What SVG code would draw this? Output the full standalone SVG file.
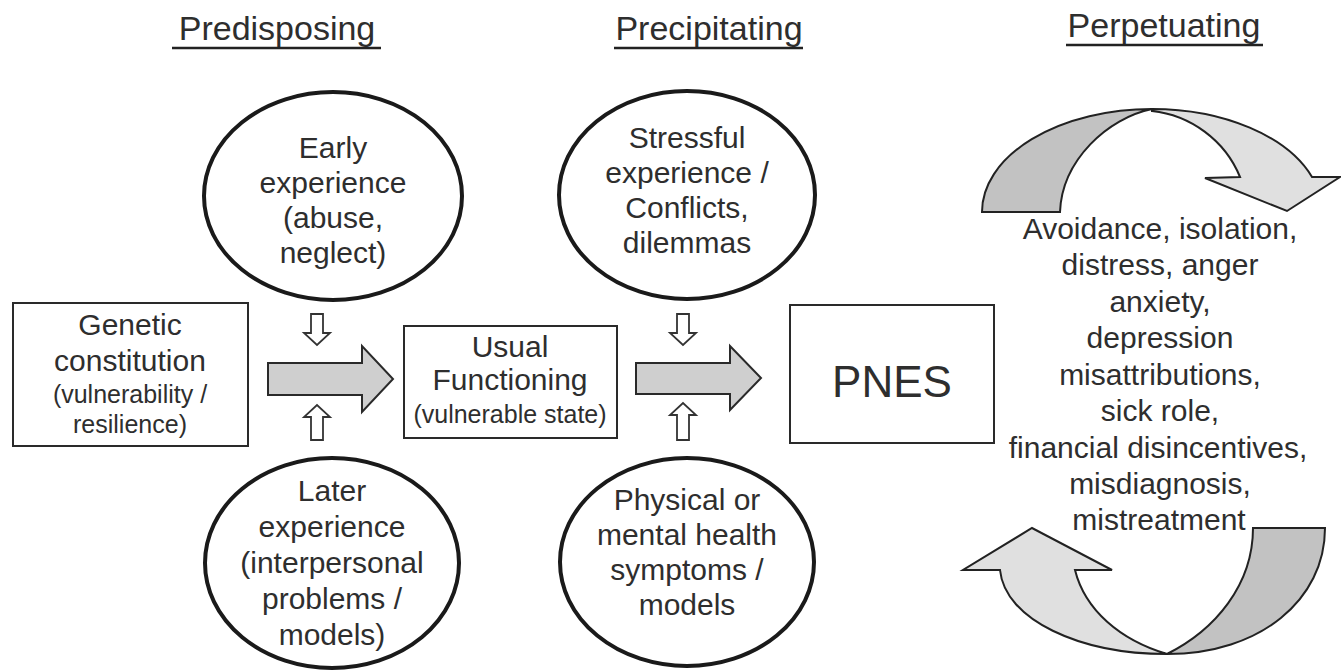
<svg xmlns="http://www.w3.org/2000/svg" width="1341" height="671" viewBox="0 0 1341 671">
<style>
text{font-family:"Liberation Sans",Arial,sans-serif;fill:#2e2e2e;text-anchor:middle}
.h{font-size:34px}
.t{font-size:30px}
.s{font-size:25px}
.ell{fill:#fff;stroke:#1a1a1a;stroke-width:4}
.box{fill:#fff;stroke:#2a2a2a;stroke-width:2}
.blk{fill:#cfcfcf;stroke:#2a2a2a;stroke-width:2;stroke-linejoin:miter}
.sm{fill:#fff;stroke:#333;stroke-width:1.8}
.dk{fill:#c2c2c2;stroke:#222;stroke-width:2}
.lt{fill:#e0e0e0;stroke:#222;stroke-width:2}
.ul{stroke:#222;stroke-width:2.5}
</style>
<g id="headings">
<text class="h" x="277" y="40">Predisposing</text>
<line class="ul" x1="172" y1="48" x2="381" y2="48"/>
<text class="h" x="709" y="40">Precipitating</text>
<line class="ul" x1="614" y1="48" x2="803" y2="48"/>
<text class="h" x="1164" y="37">Perpetuating</text>
<line class="ul" x1="1066" y1="45" x2="1263" y2="45"/>
</g>
<g id="early">
<ellipse class="ell" cx="333" cy="196" rx="129" ry="104"/>
<text class="t" x="333" y="158">Early</text>
<text class="t" x="333" y="193">experience</text>
<text class="t" x="333" y="228">(abuse,</text>
<text class="t" x="333" y="263">neglect)</text>
</g>
<g id="stressful">
<ellipse class="ell" cx="687" cy="195" rx="128" ry="104"/>
<text class="t" x="687" y="148">Stressful</text>
<text class="t" x="687" y="183">experience /</text>
<text class="t" x="687" y="218">Conflicts,</text>
<text class="t" x="687" y="253">dilemmas</text>
</g>
<g id="genetic">
<rect class="box" x="13" y="303" width="235" height="143"/>
<text class="t" x="130" y="335">Genetic</text>
<text class="t" x="130" y="371">constitution</text>
<text class="s" x="130" y="403">(vulnerability /</text>
<text class="s" x="130" y="433">resilience)</text>
</g>
<g id="usual">
<rect class="box" x="404" y="326" width="213" height="112"/>
<text class="t" x="510" y="357">Usual</text>
<text class="t" x="510" y="390">Functioning</text>
<text class="s" x="510" y="423">(vulnerable state)</text>
</g>
<g id="pnes">
<rect class="box" x="790" y="305" width="204" height="138"/>
<text x="892" y="397" style="font-size:44px">PNES</text>
</g>
<g id="later">
<ellipse class="ell" cx="332" cy="563" rx="127" ry="105"/>
<text class="t" x="332" y="501">Later</text>
<text class="t" x="332" y="537">experience</text>
<text class="t" x="332" y="573">(interpersonal</text>
<text class="t" x="332" y="609">problems /</text>
<text class="t" x="332" y="645">models)</text>
</g>
<g id="physical">
<ellipse class="ell" cx="687" cy="562" rx="127" ry="104"/>
<text class="t" x="687" y="510">Physical or</text>
<text class="t" x="687" y="545">mental health</text>
<text class="t" x="687" y="580">symptoms /</text>
<text class="t" x="687" y="615">models</text>
</g>
<g id="perpetuating-text">
<text class="t" x="1160" y="239">Avoidance, isolation,</text>
<text class="t" x="1160" y="275">distress, anger</text>
<text class="t" x="1160" y="312">anxiety,</text>
<text class="t" x="1160" y="348">depression</text>
<text class="t" x="1160" y="385">misattributions,</text>
<text class="t" x="1160" y="421">sick role,</text>
<text class="t" x="1158" y="458">financial disincentives,</text>
<text class="t" x="1160" y="494">misdiagnosis,</text>
<text class="t" x="1159" y="530">mistreatment</text>
</g>
<g id="connectors">
<path class="blk" d="M268,363 L362,363 L362,346 L393,379 L362,412 L362,395 L268,395 Z"/>
<path class="blk" d="M636,363 L730,363 L730,346 L761,378 L730,410 L730,394 L636,394 Z"/>
<path class="sm" d="M311,314 L323,314 L323,333 L330,333 L317,345 L304,333 L311,333 Z"/>
<path class="sm" d="M311,440 L323,440 L323,417 L330,417 L317,405 L304,417 L311,417 Z"/>
<path class="sm" d="M677,314 L689,314 L689,333 L696,333 L683,345 L670,333 L677,333 Z"/>
<path class="sm" d="M677,440 L689,440 L689,415 L696,415 L683,403 L670,415 L677,415 Z"/>
<path class="dk" d="M982,212 A170 103 0 0 1 1152,109 C1108,118 1062,160 1060,212 Z"/>
<path class="lt" d="M1152,109 A170 103 0 0 1 1312,177 L1340,177 L1287,211 L1205,178 L1240,177 C1225,140 1190,115 1152,111 Z"/>
<path class="dk" d="M1253,528 L1325,528 C1325,600 1260,654 1167,654 C1215,630 1253,585 1253,528 Z"/>
<path class="lt" d="M1167,654 C1080,654 1005,620 1000,570 L963,570 L1032,528 L1112,570 L1075,570 C1085,610 1120,640 1167,654 Z"/>
</g>
</svg>
